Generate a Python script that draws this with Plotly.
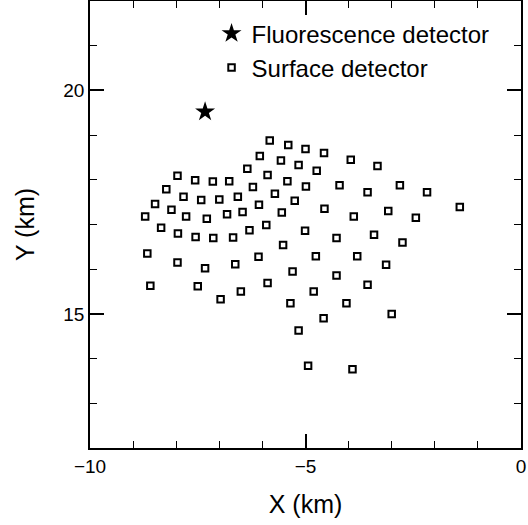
import plotly.graph_objects as go

# Surface detector positions (km)
sd_x = [-5.83, -5.40, -5.00, -6.06, -5.57, -5.16, -6.35, -5.88, -5.42, -4.99,
        -7.97, -7.56, -7.15, -6.77, -8.23, -6.22, -5.71, -7.83, -7.42, -7.00,
        -6.57, -5.25, -8.49, -6.08, -8.11, -8.72, -7.77, -7.29, -6.82, -6.46,
        -5.55, -8.35, -7.96, -7.55, -7.14, -6.68, -6.30, -5.91, -5.01, -5.52,
        -8.67, -7.97, -7.33, -6.63, -6.09, -5.30, -8.60, -7.50, -6.97, -6.50,
        -5.88, -5.35, -4.57, -3.95, -3.33, -4.74, -4.21, -3.56, -2.81, -2.18,
        -4.56, -3.88, -3.08, -2.44, -1.42, -4.28, -3.41, -2.75, -4.76, -3.80,
        -3.13, -4.28, -3.56, -4.81, -4.05, -3.00, -4.58, -5.16, -4.94, -3.91]
sd_y = [18.88, 18.78, 18.69, 18.53, 18.43, 18.33, 18.25, 18.11, 17.97, 17.85,
        18.09, 17.99, 17.96, 17.97, 17.79, 17.84, 17.69, 17.62, 17.55, 17.56,
        17.62, 17.53, 17.46, 17.44, 17.33, 17.18, 17.18, 17.13, 17.23, 17.28,
        17.27, 16.93, 16.80, 16.72, 16.70, 16.71, 16.87, 16.99, 16.86, 16.54,
        16.35, 16.15, 16.02, 16.11, 16.28, 15.95, 15.63, 15.62, 15.33, 15.50,
        15.69, 15.24, 18.60, 18.45, 18.31, 18.20, 17.88, 17.72, 17.88, 17.72,
        17.35, 17.18, 17.30, 17.15, 17.39, 16.70, 16.77, 16.60, 16.29, 16.29,
        16.10, 15.86, 15.65, 15.50, 15.24, 15.00, 14.90, 14.63, 13.84, 13.76]

# Fluorescence detector position (km)
fd_x = [-7.33]
fd_y = [19.52]

FONT = "Liberation Sans, Arial, sans-serif"

fig = go.Figure()
fig.add_trace(go.Scatter(
    x=fd_x, y=fd_y, mode="markers", name="Fluorescence detector",
    marker=dict(symbol="star", size=15, color="black", line=dict(width=0))))
fig.add_trace(go.Scatter(
    x=sd_x, y=sd_y, mode="markers", name="Surface detector",
    marker=dict(symbol="square-open", size=6.5, color="black", line=dict(width=2))))

axis_common = dict(
    showline=True, linecolor="black", linewidth=1.5, mirror="allticks",
    ticks="inside", ticklen=14, tickwidth=1.5, tickcolor="black",
    showgrid=False, zeroline=False, automargin=False,
    tickfont=dict(family=FONT, size=19, color="black"),
    minor=dict(ticks="inside", ticklen=7, tickwidth=1.2, tickcolor="black",
               dtick=1, showgrid=False),
)

fig.update_xaxes(range=[-10, 0], tick0=0, dtick=5,
                 title=dict(text="X (km)", font=dict(family=FONT, size=25, color="black"), standoff=20),
                 **axis_common)
fig.update_yaxes(range=[12, 22], tick0=0, dtick=5,
                 title=dict(text="Y (km)", font=dict(family=FONT, size=25, color="black"), standoff=22),
                 **axis_common)

fig.update_layout(
    width=528, height=525,
    margin=dict(l=90, r=7, t=1, b=77, autoexpand=False),
    plot_bgcolor="white", paper_bgcolor="white",
    font=dict(family=FONT, color="black"),
    legend=dict(x=0.282, y=0.977, xanchor="left", yanchor="top",
                bgcolor="rgba(0,0,0,0)", font=dict(family=FONT, size=24, color="black"),
                itemwidth=30, tracegroupgap=0),
)

fig.write_html("out.html", config={"displayModeBar": False},
               post_script="document.body.style.margin='0';document.body.style.padding='0';")
